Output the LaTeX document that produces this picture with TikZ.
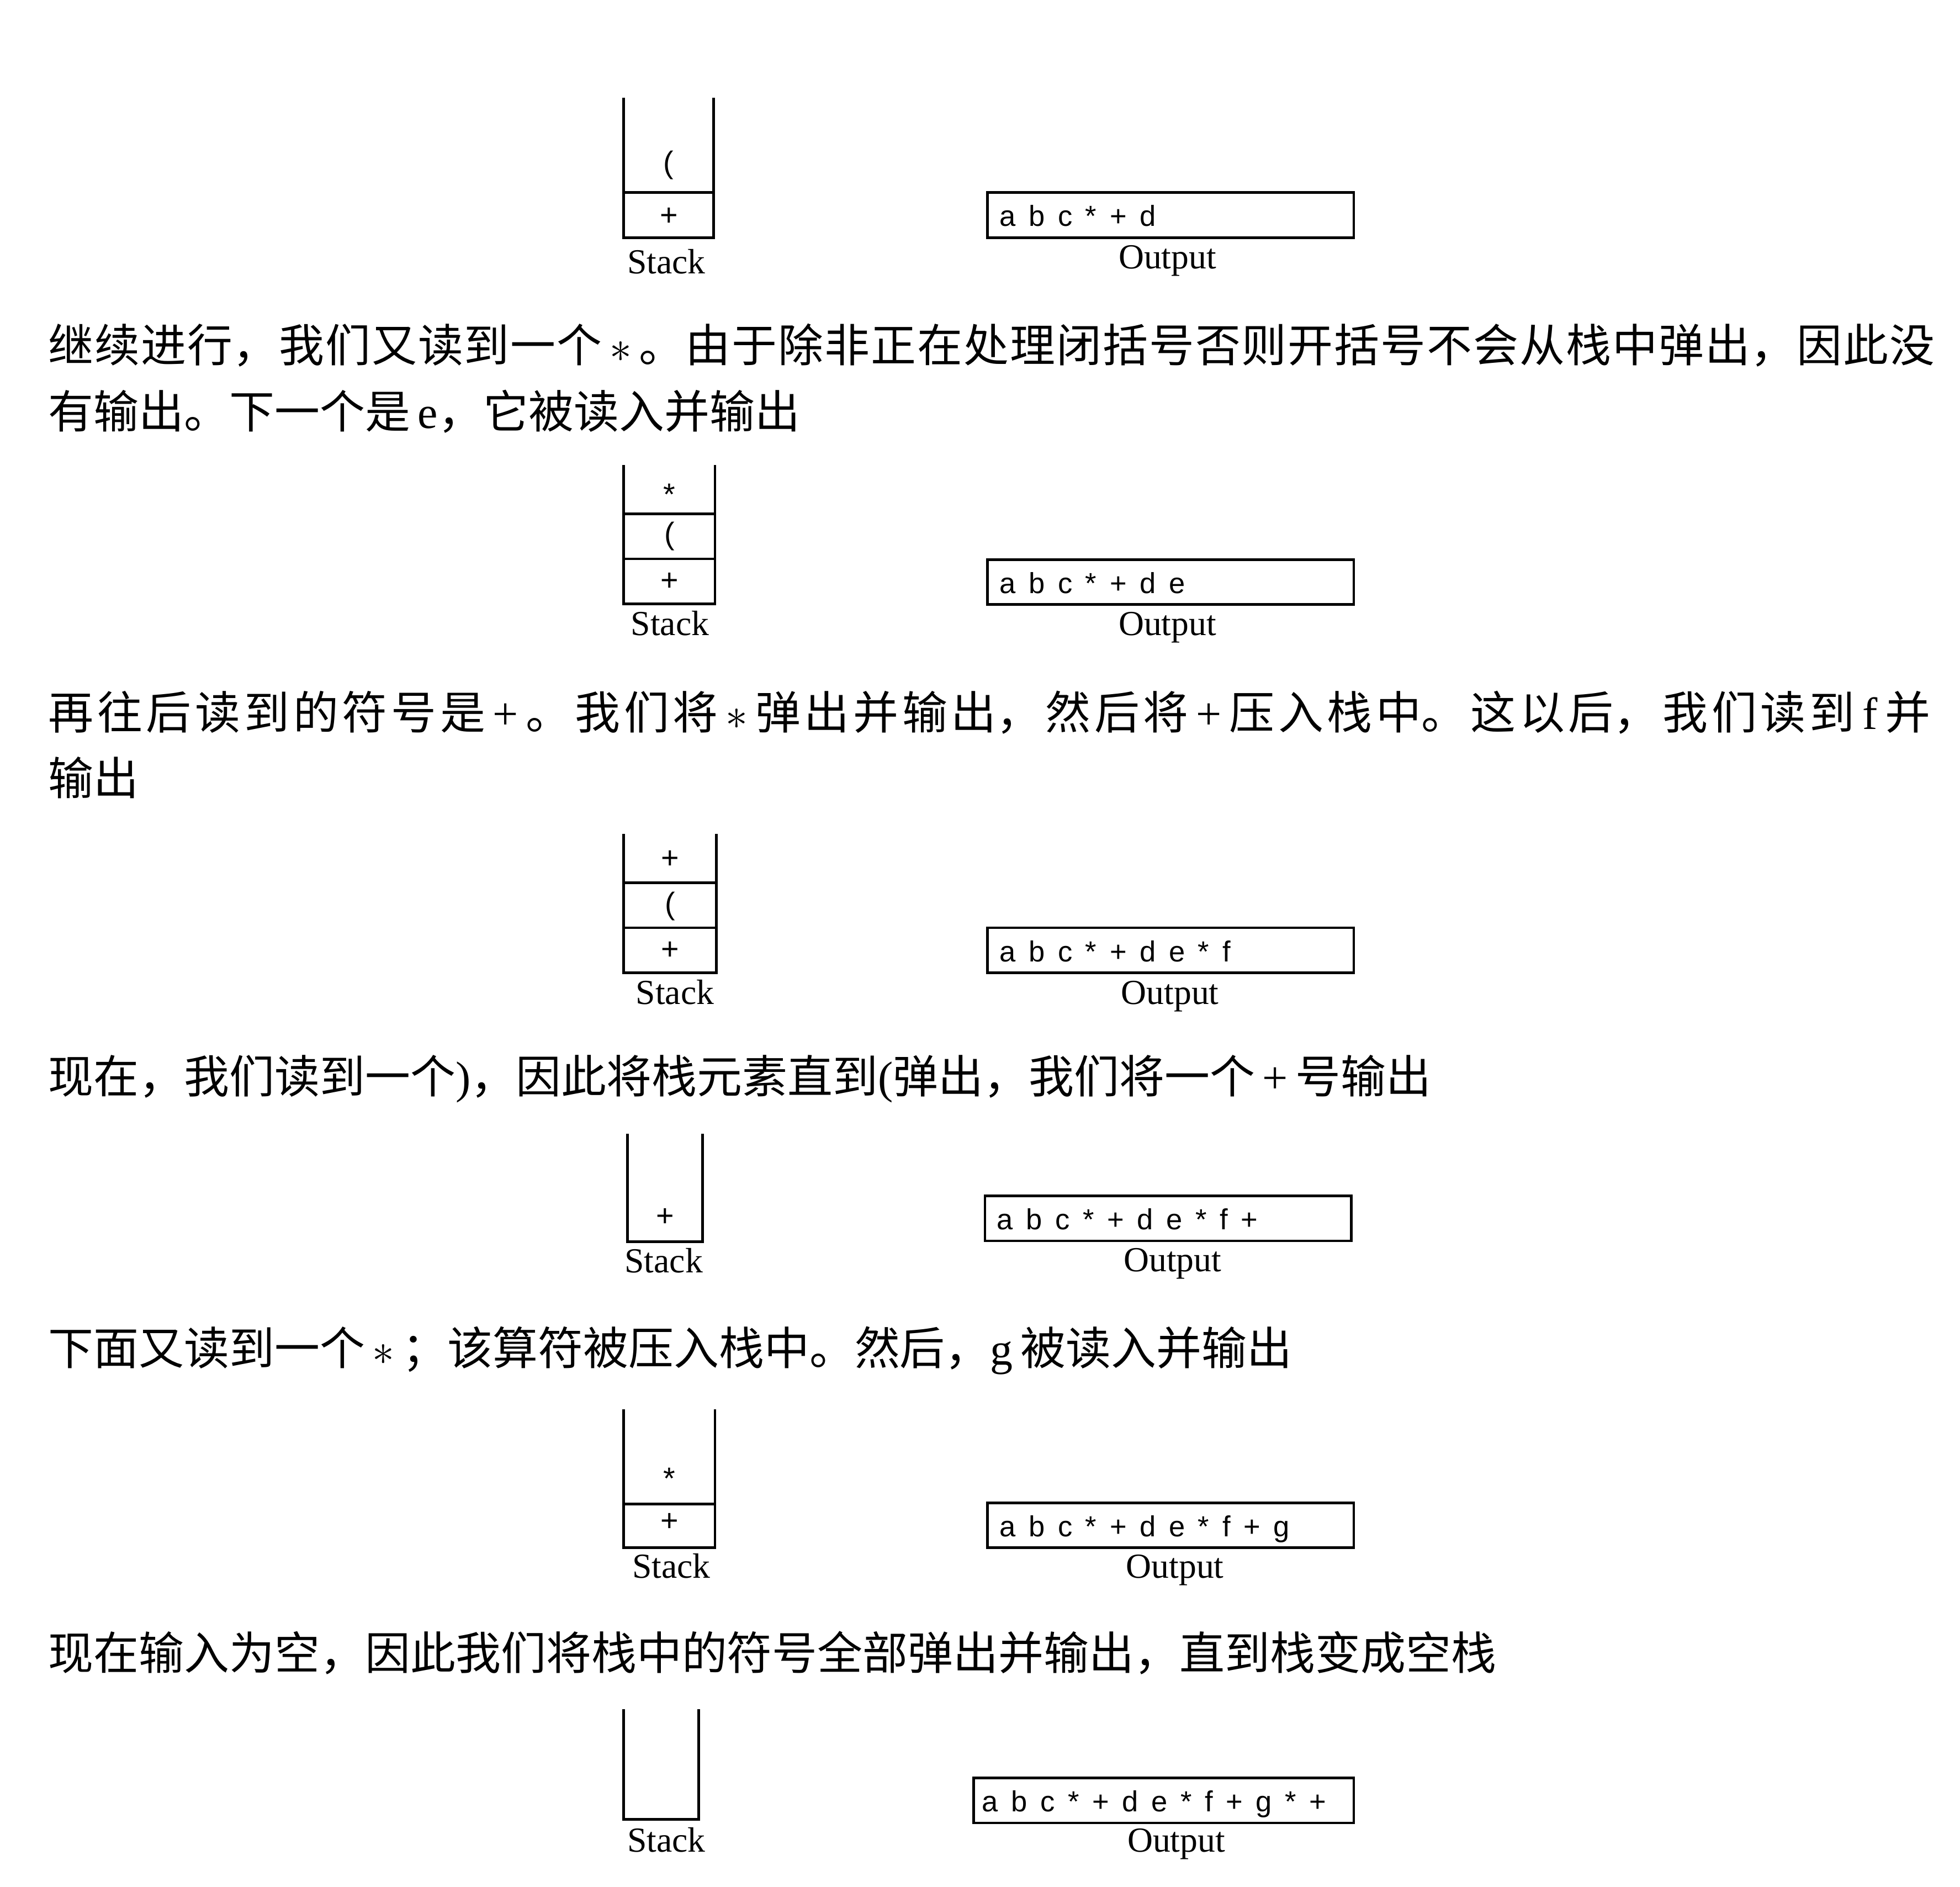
\documentclass[tikz,border=0pt]{standalone}
\usepackage{fontspec}
\setmainfont{Liberation Serif}
\setsansfont{Liberation Sans}
\newfontfamily\cjk{Noto Sans CJK SC}
\XeTeXlinebreaklocale "zh"
\XeTeXlinebreakskip=0pt plus 3pt minus 0.6pt
\newcommand{\lat}[1]{{\rmfamily #1}}

\begin{document}
\begin{tikzpicture}[x=0.1mm, y=-0.1mm,
    wall/.style={line width=0.6pt},
    cell/.style={font=\sffamily\fontsize{7}{8}\selectfont, inner sep=0pt, anchor=base},
    outbox/.style={draw, line width=0.6pt, minimum width=29.3mm, minimum height=3.6mm, inner sep=0pt},
    outtext/.style={font={\sffamily\fontsize{6.6}{8}\selectfont\spaceskip=0.45em\relax}, inner sep=0pt, anchor=base west},
    caption/.style={font=\rmfamily\fontsize{8}{9}\selectfont, inner sep=0pt, anchor=base},
    para/.style={font=\cjk\fontsize{10.3}{13}\selectfont, inner sep=0pt, anchor=west},
    fullpara/.style={para, text width=#1},
    fullpara/.default=150.7mm]
    \useasboundingbox (0,0) rectangle (1568,1509);

    \draw [wall] (499,78) -- (499,190) -- (571,190) -- (571,78);
    \draw [wall] (499,154) -- (571,154);
    \node [cell] (s1b) at (535,138.4) {(};
    \node [cell] (s1a) at (535,180.6) {+};
    \node [caption] (s1lbl) at (533,219) {Stack};
    \node [outbox] (o1) at (936.5,172) {};
    \node [outtext] (o1txt) at ([xshift=1mm, yshift=-0.9mm]o1.west) {a b c * + d};
    \node [caption] (o1lbl) at (934,215) {Output};

    \node [fullpara=151.5mm] (t1a) at (38,276) {\noindent\parfillskip=0pt 继续进行，我们又读到一个\,$\ast$\,。由于除非正在处理闭括号否则开括号不会从栈中弹出，因此没\par};
    \node [para] (t1b) at (38,329) {有输出。下一个是\,\lat{e}，它被读入并输出};

    \draw [wall] (499,372) -- (499,483) -- (572,483) -- (572,372);
    \draw [wall] (499,411) -- (572,411);
    \draw [wall] (499,447) -- (572,447);
    \node [cell] (s2c) at (535.5,404) {*};
    \node [cell] (s2b) at (535.5,435.4) {(};
    \node [cell] (s2a) at (535.5,472.6) {+};
    \node [caption] (s2lbl) at (536,508) {Stack};
    \node [outbox] (o2) at (936.5,465.5) {};
    \node [outtext] (o2txt) at ([xshift=1mm, yshift=-0.9mm]o2.west) {a b c * + d e};
    \node [caption] (o2lbl) at (934,508) {Output};

    \node [fullpara=152.6mm] (t2a) at (38,570) {\noindent\parfillskip=0pt 再往后读到的符号是\,\lat{+}\,。我们将\,$\ast$\,弹出并输出，然后将\,\lat{+}\,压入栈中。这以后，我们读到\,\lat{f}\,并\par};
    \node [para] (t2b) at (38,622) {输出};

    \draw [wall] (499,667) -- (499,778) -- (573,778) -- (573,667);
    \draw [wall] (499,706) -- (573,706);
    \draw [wall] (499,742) -- (573,742);
    \node [cell] (s3c) at (536,694.6) {+};
    \node [cell] (s3b) at (536,731.4) {(};
    \node [cell] (s3a) at (536,767.6) {+};
    \node [caption] (s3lbl) at (540,803) {Stack};
    \node [outbox] (o3) at (936.5,760) {};
    \node [outtext] (o3txt) at ([xshift=1mm, yshift=-0.9mm]o3.west) {a b c * + d e * f};
    \node [caption] (o3lbl) at (936,803) {Output};

    \node [para] (t3) at (38,863) {现在，我们读到一个\lat{)}，因此将栈元素直到\lat{(}弹出，我们将一个\,\lat{+}\,号输出};

    \draw [wall] (502,907) -- (502,993) -- (562,993) -- (562,907);
    \node [cell] (s4a) at (532,980.6) {+};
    \node [caption] (s4lbl) at (531,1018) {Stack};
    \node [outbox] (o4) at (934.5,974.5) {};
    \node [outtext] (o4txt) at ([xshift=1mm, yshift=-0.9mm]o4.west) {a b c * + d e * f +};
    \node [caption] (o4lbl) at (938,1017) {Output};

    \node [para] (t4) at (38,1080) {下面又读到一个\,$\ast$\,；该算符被压入栈中。然后，\lat{g}\,被读入并输出};

    \draw [wall] (499,1127) -- (499,1238) -- (572,1238) -- (572,1127);
    \draw [wall] (499,1203) -- (572,1203);
    \node [cell] (s5b) at (535.5,1191) {*};
    \node [cell] (s5a) at (535.5,1224.6) {+};
    \node [caption] (s5lbl) at (537,1262) {Stack};
    \node [outbox] (o5) at (936.5,1220) {};
    \node [outtext] (o5txt) at ([xshift=1mm, yshift=-0.9mm]o5.west) {a b c * + d e * f + g};
    \node [caption] (o5lbl) at (940,1262) {Output};

    \node [para] (t5) at (38,1322) {现在输入为空，因此我们将栈中的符号全部弹出并输出，直到栈变成空栈};

    \draw [wall] (499,1367) -- (499,1455) -- (559,1455) -- (559,1367);
    \node [caption] (s6lbl) at (533,1481) {Stack};
    \node [outbox, minimum width=30.4mm] (o6) at (931,1440) {};
    \node [outtext] (o6txt) at ([xshift=0.7mm, yshift=-0.9mm]o6.west) {a b c * + d e * f + g * +};
    \node [caption] (o6lbl) at (941,1481) {Output};
\end{tikzpicture}
\end{document}
